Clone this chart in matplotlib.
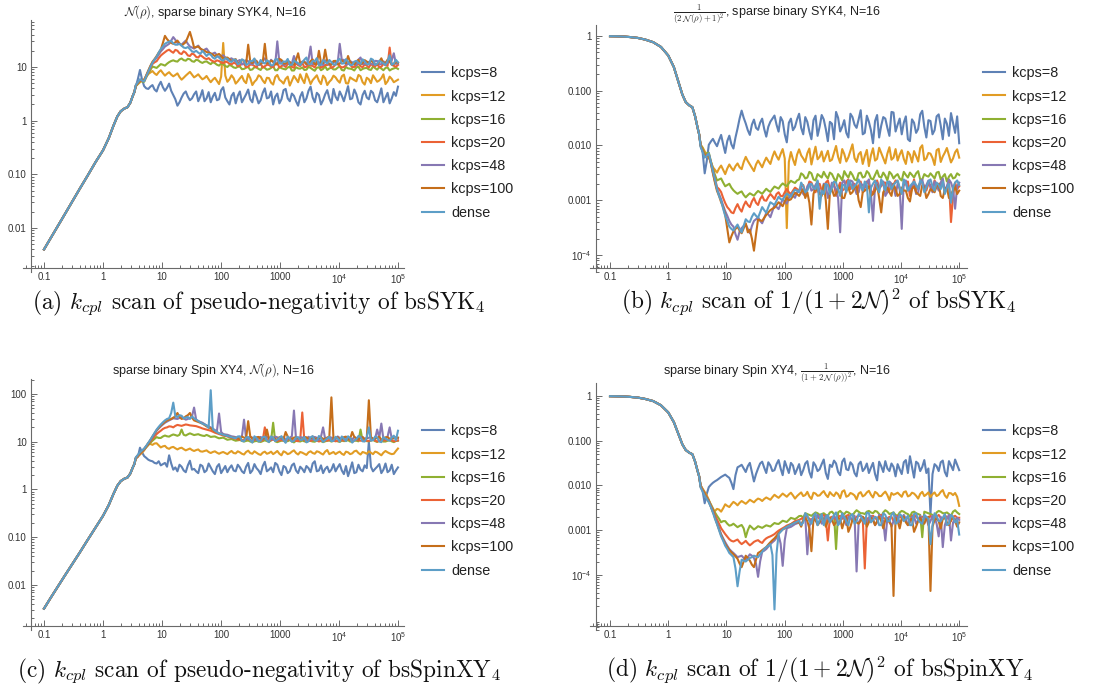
import numpy as np
import matplotlib
matplotlib.use("Agg")
import matplotlib.pyplot as plt
from matplotlib.ticker import FixedLocator, FixedFormatter, LogLocator, NullFormatter

W, H = 1116, 691
plt.rcParams['font.family'] = ['Liberation Sans', 'DejaVu Sans']
plt.rcParams['mathtext.fontset'] = 'custom'
plt.rcParams['mathtext.rm'] = 'Liberation Sans'
plt.rcParams['mathtext.it'] = 'Liberation Sans:italic'
plt.rcParams['mathtext.bf'] = 'Liberation Sans:bold'

LABELS = ['kcps=8', 'kcps=12', 'kcps=16', 'kcps=20', 'kcps=48', 'kcps=100', 'dense']
COLORS = ['#5E81B5', '#E19C24', '#8FB032', '#EB6235', '#8778B3', '#C56E1A', '#5D9EC7']

X_TICKS = [0.1, 1, 10, 100, 1000, 1e4, 1e5]
X_TICK_LABELS = ['0.1', '1', '10', '100', '1000', r'$10^4$', r'$10^5$']

# coupling values: smooth onset (shared by all series) and the noisy region samples
# (noisy samples alternate: "main" readings at even positions, "mid" readings in between)
K_SMOOTH = [0.1, 0.13, 0.17, 0.22, 0.3, 0.4, 0.55, 0.75, 1.0, 1.25, 1.5, 1.75, 2.0, 2.3, 2.6, 2.9, 3.2, 3.4]
K_NOISY = np.geomspace(3.6, 1.0e5, 127)

# ================= (a) N(rho), sparse binary SYK4 =================
SYK_N_SMOOTH = [0.0040, 0.0065, 0.0107, 0.0173, 0.031, 0.053, 0.095, 0.17, 0.28, 0.47, 0.80, 1.20, 1.50, 1.68, 1.78, 2.15, 2.9, 3.4]
SYK_N_K8 = [
    4.3, 8.8, 4.4, 3.9, 4.6, 3.5, 5.3, 3.6,
    4.9, 3.0, 1.9, 2.7, 3.5, 2.4, 3.1, 2.3,
    3.7, 2.6, 2.2, 3.3, 2.5, 4.2, 2.3, 2.9,
    2.1, 3.5, 2.6, 3.8, 2.2, 2.8, 2.4, 4.0,
    2.7, 2.0, 3.2, 2.5, 3.9, 2.3, 2.9, 1.9,
    3.4, 2.6, 4.3, 2.2, 3.0, 2.4, 3.7, 2.1,
    2.8, 3.5, 2.3, 4.4, 2.6, 3.1, 2.0, 3.6,
    2.5, 3.3, 2.2, 4.0, 2.7, 2.1, 3.4, 4.3]
SYK_N_K8_MID = [
    6.0, 5.8, 4.0, 4.3, 3.8, 4.5, 4.2, 4.1,
    3.6, 2.5, 2.2, 3.2, 2.8, 2.6, 3.5, 2.8,
    2.3, 3.4, 2.8, 2.4, 3.7, 2.7, 2.0, 3.3,
    2.9, 2.2, 3.1, 2.5, 3.6, 2.1, 3.3, 2.6,
    3.5, 2.8, 2.1, 3.7, 2.6, 3.2, 2.3, 2.8,
    2.2, 3.6, 2.7, 3.3, 2.0, 3.1, 2.6, 3.9,
    2.4, 2.9, 3.2, 2.5, 3.8, 2.2, 3.0, 2.7,
    3.6, 2.4, 2.9, 2.2, 3.3, 2.6, 2.9]
SYK_N_K12 = [
    4.4, 5.2, 5.9, 7.4, 8.4, 7.1, 8.7, 6.9,
    8.0, 6.7, 7.6, 5.8, 6.9, 8.1, 6.4, 7.3,
    5.9, 6.8, 5.2, 6.3, 4.8, 28.0, 5.3, 7.0,
    4.9, 6.1, 5.5, 7.4, 4.6, 5.8, 6.6, 5.0,
    6.2, 4.7, 7.1, 5.4, 6.0, 4.5, 6.8, 5.2,
    5.9, 7.5, 4.8, 6.3, 5.5, 6.9, 4.6, 5.8,
    6.4, 5.1, 7.2, 4.9, 6.0, 5.4, 6.7, 4.7,
    5.9, 7.0, 5.3, 6.2, 4.8, 6.6, 5.2, 5.8]
SYK_N_K12_MID = [
    4.8, 5.6, 6.7, 7.9, 7.6, 8.0, 7.7, 7.5,
    7.2, 7.1, 6.5, 6.3, 7.5, 7.2, 6.8, 6.5,
    6.2, 5.9, 5.8, 5.5, 6.6, 6.9, 5.9, 6.2,
    5.4, 6.8, 5.0, 6.2, 5.3, 7.0, 5.6, 6.3,
    5.1, 6.5, 5.8, 4.9, 6.6, 5.5, 6.0, 7.3,
    5.0, 6.1, 5.7, 7.0, 4.8, 6.2, 5.3, 6.9,
    5.6, 6.7, 5.0, 6.4, 5.7, 7.1, 5.2, 6.3,
    5.0, 6.1, 5.6, 7.3, 5.4, 6.0, 5.5]
SYK_N_K16 = [
    4.4, 5.5, 5.3, 7.6, 10.2, 9.6, 11.3, 10.6,
    12.3, 13.3, 12.6, 14.4, 13.1, 13.9, 12.5, 13.3,
    11.9, 12.7, 11.3, 11.8, 10.6, 11.2, 10.0, 10.5,
    9.6, 10.2, 9.2, 10.0, 9.0, 9.8, 8.8, 9.6,
    9.1, 10.4, 8.7, 9.5, 9.0, 10.1, 8.6, 9.4,
    9.8, 8.9, 9.6, 8.5, 9.9, 9.2, 8.8, 9.7,
    9.0, 10.3, 8.6, 9.4, 9.1, 9.8, 8.7, 9.5,
    9.0, 10.2, 8.9, 9.3, 9.6, 8.6, 9.4, 9.2]
SYK_N_K16_MID = [
    4.9, 5.4, 6.4, 8.8, 9.9, 10.4, 11.0, 11.5,
    12.9, 12.8, 13.8, 13.4, 14.2, 12.8, 13.6, 12.4,
    12.5, 11.9, 12.3, 11.0, 11.6, 10.4, 10.9, 9.8,
    10.1, 9.1, 9.7, 8.8, 9.9, 9.2, 10.2, 8.9,
    9.6, 8.7, 10.0, 9.2, 9.8, 8.6, 9.9, 9.3,
    8.8, 10.1, 9.0, 9.7, 8.7, 10.3, 9.4, 9.0,
    9.7, 8.8, 10.0, 9.3, 8.6, 10.1, 9.2, 9.6,
    8.8, 9.5, 10.0, 8.7, 9.8, 9.1, 9.7]
SYK_N_K20 = [
    4.5, 5.6, 5.5, 7.9, 11.4, 12.8, 16.3, 18.8,
    21.0, 18.4, 20.1, 17.4, 18.5, 16.0, 17.1, 15.0,
    15.6, 14.0, 13.5, 12.5, 12.9, 11.8, 12.3, 11.2,
    11.7, 10.8, 11.4, 10.2, 11.0, 9.8, 11.6, 10.3,
    10.9, 9.9, 11.8, 10.4, 10.0, 11.3, 9.7, 10.8,
    12.0, 10.1, 10.6, 9.8, 11.5, 10.2, 10.9, 9.6,
    11.1, 10.4, 10.0, 11.7, 9.9, 10.7, 10.3, 11.2,
    9.8, 10.6, 11.4, 10.1, 10.8, 23.0, 10.5, 10.9]
SYK_N_K20_MID = [
    5.0, 5.5, 6.6, 9.6, 12.2, 14.6, 17.6, 20.2,
    19.5, 20.8, 18.0, 19.6, 16.4, 17.8, 15.4, 16.6,
    14.5, 14.6, 12.8, 13.3, 12.1, 12.6, 11.5, 11.9,
    10.3, 11.5, 9.9, 11.1, 10.5, 11.8, 9.7, 11.0,
    10.2, 11.6, 9.8, 10.8, 11.4, 10.0, 11.9, 10.4,
    9.9, 11.2, 10.5, 11.7, 9.7, 10.9, 11.3, 10.1,
    11.5, 9.8, 10.7, 11.1, 10.0, 11.6, 9.9, 10.6,
    11.3, 10.2, 9.9, 11.4, 10.5, 11.0, 10.1]
SYK_N_K48 = [
    4.5, 5.8, 5.5, 8.4, 12.0, 15.0, 19.5, 24.0,
    27.0, 36.0, 28.0, 26.0, 31.0, 24.0, 22.0, 25.0,
    20.0, 22.0, 17.0, 18.5, 15.0, 16.5, 13.5, 14.5,
    12.5, 13.5, 11.8, 12.8, 11.2, 13.0, 11.0, 14.5,
    11.5, 12.4, 30.0, 13.2, 11.4, 12.0, 16.0, 11.2,
    12.6, 11.0, 24.0, 11.6, 12.3, 10.9, 13.4, 11.3,
    12.1, 27.0, 13.6, 11.4, 12.2, 10.8, 15.0, 11.5,
    12.4, 11.1, 12.9, 11.3, 12.0, 13.2, 18.0, 11.6]
SYK_N_K48_MID = [
    5.1, 5.6, 6.9, 10.2, 13.5, 17.0, 21.5, 25.5,
    31.0, 32.0, 27.0, 28.5, 27.0, 23.0, 23.5, 22.0,
    21.0, 19.5, 17.8, 16.5, 15.8, 15.0, 14.0, 13.4,
    12.9, 11.1, 13.4, 11.6, 12.3, 10.9, 13.1, 11.8,
    13.6, 11.3, 12.0, 10.8, 13.3, 11.7, 12.6, 11.0,
    12.8, 13.9, 11.2, 12.5, 11.4, 13.2, 10.9, 12.2,
    11.6, 13.5, 11.0, 12.9, 11.8, 13.7, 11.3, 12.4,
    11.5, 13.0, 11.1, 12.7, 11.9, 13.4, 11.4]
SYK_N_K100 = [
    4.5, 5.7, 5.6, 8.6, 12.5, 16.0, 21.0, 38.0,
    30.0, 27.0, 31.0, 25.0, 29.0, 45.0, 23.0, 24.0,
    21.0, 19.0, 18.0, 16.0, 17.5, 14.5, 15.0, 13.0,
    14.0, 12.2, 13.0, 26.0, 11.8, 12.8, 11.4, 27.0,
    11.8, 12.6, 11.2, 13.5, 11.6, 12.4, 11.0, 18.0,
    12.2, 11.4, 12.9, 11.2, 20.0, 11.8, 12.5, 11.0,
    13.0, 11.5, 12.3, 16.0, 11.7, 12.6, 11.1, 13.4,
    11.6, 12.2, 11.0, 14.5, 11.8, 12.5, 11.3, 12.0]
SYK_N_K100_MID = [
    5.1, 5.6, 7.0, 10.5, 14.0, 18.5, 28.0, 33.0,
    28.0, 29.0, 27.5, 27.0, 36.0, 33.0, 23.5, 22.0,
    20.0, 18.5, 17.0, 16.8, 16.0, 14.8, 14.0, 13.5,
    11.5, 13.4, 11.1, 12.6, 13.9, 11.3, 12.2, 11.7,
    13.1, 11.2, 14.2, 11.6, 12.7, 11.0, 13.5, 11.8,
    12.4, 11.3, 13.8, 11.5, 12.1, 21.0, 11.4, 12.9,
    11.2, 13.3, 11.7, 12.3, 11.0, 13.6, 11.9, 12.6,
    13.2, 11.3, 12.5, 11.6, 13.7, 11.1, 12.4]
SYK_N_DENSE = [
    4.6, 5.9, 5.4, 8.2, 12.0, 15.5, 21.5, 27.0,
    29.5, 27.5, 26.0, 25.0, 22.5, 21.5, 19.0, 18.5,
    20.0, 16.0, 17.0, 14.2, 15.2, 13.2, 14.2, 12.4,
    13.6, 11.8, 13.2, 11.4, 12.8, 11.0, 13.5, 11.6,
    12.6, 10.8, 14.0, 11.5, 12.4, 10.9, 13.2, 11.8,
    12.2, 15.0, 11.2, 12.8, 10.7, 13.4, 11.6, 12.3,
    11.0, 14.2, 11.7, 12.5, 10.9, 13.0, 11.4, 12.7,
    11.2, 13.6, 11.5, 12.4, 10.8, 16.5, 11.6, 12.2]
SYK_N_DENSE_MID = [
    5.2, 5.6, 6.7, 10.0, 13.8, 18.5, 24.0, 28.5,
    30.5, 26.0, 27.0, 23.0, 23.5, 19.5, 20.0, 17.5,
    18.0, 17.5, 15.0, 15.8, 13.6, 14.6, 12.8, 13.8,
    11.2, 13.9, 10.9, 12.9, 14.4, 11.3, 12.1, 13.3,
    10.7, 13.8, 11.6, 12.7, 14.1, 11.0, 12.3, 10.8,
    13.7, 11.4, 12.9, 14.6, 10.9, 12.4, 13.5, 11.1,
    13.4, 11.5, 14.0, 10.8, 12.6, 11.9, 13.9, 11.2,
    14.3, 10.9, 13.1, 11.7, 12.8, 11.0, 13.6]

# ================= (b) 1/(2N+1)^2, sparse binary SYK4 =================
SYK_INV_SMOOTH = [0.99, 0.985, 0.975, 0.955, 0.92, 0.86, 0.77, 0.63, 0.44, 0.27, 0.145, 0.085, 0.062, 0.054, 0.050, 0.034, 0.021, 0.016]
SYK_INV_K8 = [
    0.0107, 0.0031, 0.0103, 0.0132, 0.0097, 0.0156, 0.0073, 0.0151,
    0.0088, 0.0204, 0.0433, 0.0252, 0.0156, 0.0297, 0.0193, 0.0309,
    0.0145, 0.0272, 0.0352, 0.0179, 0.0278, 0.0114, 0.0309, 0.0219,
    0.038, 0.016, 0.027, 0.013, 0.035, 0.022, 0.030, 0.012,
    0.025, 0.041, 0.018, 0.029, 0.014, 0.033, 0.021, 0.044,
    0.017, 0.027, 0.011, 0.036, 0.023, 0.031, 0.015, 0.040,
    0.024, 0.016, 0.034, 0.012, 0.026, 0.020, 0.043, 0.014,
    0.028, 0.019, 0.037, 0.013, 0.025, 0.039, 0.017, 0.011]
SYK_INV_K8_MID = [
    0.0075, 0.0052, 0.0118, 0.0112, 0.0125, 0.0105, 0.0120, 0.0105,
    0.0140, 0.031, 0.032, 0.019, 0.024, 0.021, 0.026, 0.020,
    0.022, 0.031, 0.024, 0.033, 0.016, 0.026, 0.019, 0.030,
    0.021, 0.033, 0.018, 0.029, 0.015, 0.036, 0.020, 0.027,
    0.013, 0.032, 0.022, 0.017, 0.038, 0.024, 0.030, 0.016,
    0.035, 0.019, 0.028, 0.014, 0.033, 0.021, 0.041, 0.018,
    0.031, 0.026, 0.013, 0.030, 0.017, 0.037, 0.022, 0.029,
    0.016, 0.034, 0.023, 0.031, 0.015, 0.026, 0.034]
SYK_INV_K12 = [
    0.0103, 0.0078, 0.0060, 0.0040, 0.0032, 0.0043, 0.0030, 0.0045,
    0.0035, 0.0047, 0.0037, 0.0062, 0.0045, 0.0034, 0.0053, 0.0040,
    0.0060, 0.0046, 0.0078, 0.0055, 0.0086, 0.00031, 0.0076, 0.0044,
    0.0085, 0.0058, 0.0072, 0.0045, 0.0095, 0.0062, 0.0051, 0.0080,
    0.0055, 0.0098, 0.0048, 0.0070, 0.0061, 0.0105, 0.0050, 0.0076,
    0.0064, 0.0042, 0.0089, 0.0057, 0.0073, 0.0047, 0.0093, 0.0060,
    0.0053, 0.0082, 0.0046, 0.0068, 0.0079, 0.0051, 0.0101, 0.0058,
    0.0071, 0.0044, 0.0087, 0.0063, 0.0090, 0.0049, 0.0075, 0.0060]
SYK_INV_K12_MID = [
    0.0092, 0.0068, 0.0050, 0.0036, 0.0038, 0.0036, 0.0038, 0.0039,
    0.0042, 0.0040, 0.0050, 0.0052, 0.0039, 0.0045, 0.0046, 0.0050,
    0.0052, 0.0062, 0.0064, 0.0070, 0.0058, 0.0050, 0.0056, 0.0068,
    0.0066, 0.0050, 0.0088, 0.0067, 0.0056, 0.0078, 0.0064, 0.0052,
    0.0074, 0.0062, 0.0086, 0.0051, 0.0080, 0.0059, 0.0069, 0.0046,
    0.0083, 0.0066, 0.0053, 0.0091, 0.0058, 0.0071, 0.0055, 0.0086,
    0.0068, 0.0057, 0.0077, 0.0049, 0.0064, 0.0090, 0.0054, 0.0073,
    0.0059, 0.0082, 0.0050, 0.0074, 0.0066, 0.0058, 0.0085]
SYK_INV_K16 = [
    0.0103, 0.0069, 0.0074, 0.0038, 0.0023, 0.0025, 0.0018, 0.0020,
    0.00152, 0.00131, 0.00145, 0.00113, 0.00134, 0.00121, 0.00148, 0.00131,
    0.00162, 0.00142, 0.00178, 0.00163, 0.00203, 0.00182, 0.00227, 0.00207,
    0.0024, 0.0029, 0.0026, 0.0031, 0.0023, 0.0028, 0.0033, 0.0025,
    0.0030, 0.0022, 0.0027, 0.0034, 0.0026, 0.0029, 0.0023, 0.0032,
    0.0027, 0.0031, 0.0024, 0.0035, 0.0026, 0.0028, 0.0033, 0.0025,
    0.0030, 0.0023, 0.0029, 0.0032, 0.0026, 0.0034, 0.0024, 0.0028,
    0.0031, 0.0025, 0.0033, 0.0027, 0.0022, 0.0030, 0.0026, 0.0029]
SYK_INV_K16_MID = [
    0.0088, 0.0072, 0.0052, 0.0029, 0.0024, 0.0021, 0.0019, 0.0017,
    0.00140, 0.00139, 0.00125, 0.00124, 0.00127, 0.00135, 0.00139, 0.00146,
    0.00150, 0.00160, 0.00170, 0.00185, 0.00190, 0.00205, 0.00215, 0.0023,
    0.0031, 0.0025, 0.0033, 0.0024, 0.0030, 0.0026, 0.0028, 0.0032,
    0.0025, 0.0030, 0.0023, 0.0029, 0.0033, 0.0024, 0.0031, 0.0026,
    0.0034, 0.0025, 0.0029, 0.0027, 0.0032, 0.0023, 0.0030, 0.0028,
    0.0025, 0.0033, 0.0026, 0.0029, 0.0031, 0.0024, 0.0030, 0.0027,
    0.0028, 0.0032, 0.0024, 0.0030, 0.0027, 0.0025, 0.0031]
SYK_INV_K20 = [
    0.0099, 0.0066, 0.0069, 0.0036, 0.00174, 0.00141, 0.00089, 0.00068,
    0.00058, 0.00085, 0.00062, 0.00095, 0.00075, 0.0011, 0.00082, 0.0012,
    0.00098, 0.0013, 0.00105, 0.0014, 0.00118, 0.0016, 0.0013, 0.0017,
    0.0015, 0.0019, 0.0016, 0.0021, 0.0014, 0.0020, 0.0017, 0.0023,
    0.0018, 0.0012, 0.0021, 0.0016, 0.0024, 0.0019, 0.0014, 0.0022,
    0.0017, 0.0020, 0.0013, 0.0023, 0.0018, 0.0021, 0.0015, 0.0019,
    0.0022, 0.0016, 0.0020, 0.0012, 0.0024, 0.0018, 0.0021, 0.0015,
    0.0019, 0.0023, 0.0016, 0.0020, 0.0017, 0.0004, 0.0021, 0.0018]
SYK_INV_K20_MID = [
    0.0082, 0.0068, 0.0050, 0.0025, 0.0016, 0.0011, 0.00075, 0.00060,
    0.00072, 0.00070, 0.00080, 0.00082, 0.00095, 0.00090, 0.00105, 0.00100,
    0.00115, 0.00118, 0.0013, 0.0012, 0.0014, 0.0014, 0.0015, 0.0016,
    0.0018, 0.0014, 0.0022, 0.0017, 0.0019, 0.0015, 0.0021, 0.0016,
    0.0020, 0.0017, 0.0015, 0.0022, 0.0016, 0.0020, 0.0018, 0.0014,
    0.0022, 0.0015, 0.0019, 0.0017, 0.0021, 0.0014, 0.0020, 0.0023,
    0.0016, 0.0019, 0.0022, 0.0017, 0.0015, 0.0021, 0.0018, 0.0020,
    0.0015, 0.0019, 0.0021, 0.0014, 0.0022, 0.0012, 0.0016]
SYK_INV_K48 = [
    0.0099, 0.0062, 0.0069, 0.0032, 0.0016, 0.00104, 0.00063, 0.00042,
    0.00033, 0.00019, 0.00031, 0.00036, 0.00025, 0.00042, 0.00049, 0.00038,
    0.00059, 0.00049, 0.00082, 0.00069, 0.00104, 0.00087, 0.00128, 0.00111,
    0.0015, 0.0013, 0.0018, 0.0015, 0.0019, 0.0014, 0.0020, 0.0011,
    0.0021, 0.0016, 0.00026, 0.0023, 0.0018, 0.0022, 0.0013, 0.0020,
    0.0017, 0.0024, 0.00042, 0.0021, 0.0019, 0.0012, 0.0022, 0.0018,
    0.0020, 0.0003, 0.0023, 0.0016, 0.0021, 0.0014, 0.0024, 0.0019,
    0.0017, 0.0022, 0.0015, 0.0025, 0.0018, 0.0021, 0.0007, 0.0021]
SYK_INV_K48_MID = [
    0.0080, 0.0065, 0.0048, 0.0022, 0.0013, 0.00080, 0.00052, 0.00036,
    0.00024, 0.00027, 0.00034, 0.00030, 0.00034, 0.00045, 0.00042, 0.00047,
    0.00055, 0.00063, 0.00075, 0.00085, 0.00095, 0.0011, 0.0012, 0.0014,
    0.0017, 0.0012, 0.0020, 0.0016, 0.0022, 0.0013, 0.0019, 0.0015,
    0.0018, 0.0011, 0.0021, 0.0015, 0.0023, 0.0017, 0.0014, 0.0019,
    0.0021, 0.0013, 0.0018, 0.0016, 0.0022, 0.0014, 0.0020, 0.0012,
    0.0017, 0.0022, 0.0015, 0.0019, 0.0013, 0.0021, 0.0016, 0.0023,
    0.0014, 0.0019, 0.0021, 0.0015, 0.0024, 0.0016, 0.0018]
SYK_INV_K100 = [
    0.0099, 0.0064, 0.0066, 0.0031, 0.00148, 0.00092, 0.00054, 0.00017,
    0.00027, 0.00033, 0.00025, 0.00038, 0.00029, 0.00012, 0.00045, 0.00042,
    0.00054, 0.00066, 0.00073, 0.00092, 0.00078, 0.00111, 0.00104, 0.00137,
    0.0012, 0.0016, 0.0014, 0.00036, 0.0017, 0.0013, 0.0019, 0.0003,
    0.0016, 0.0013, 0.0018, 0.0011, 0.0017, 0.0014, 0.0019, 0.00075,
    0.0015, 0.0018, 0.0013, 0.0019, 0.0006, 0.0016, 0.0014, 0.0020,
    0.0012, 0.0017, 0.0015, 0.00095, 0.0018, 0.0013, 0.0019, 0.0011,
    0.0016, 0.0014, 0.0020, 0.0011, 0.0017, 0.0013, 0.0018, 0.0015]
SYK_INV_K100_MID = [
    0.0080, 0.0065, 0.0047, 0.0021, 0.0012, 0.00075, 0.00030, 0.00022,
    0.00030, 0.00028, 0.00031, 0.00026, 0.00020, 0.00024, 0.00043, 0.00048,
    0.00060, 0.00070, 0.00082, 0.00085, 0.00095, 0.00100, 0.0012, 0.0013,
    0.0014, 0.0011, 0.0009, 0.0013, 0.0015, 0.0012, 0.0010, 0.0014,
    0.0012, 0.0016, 0.0011, 0.0015, 0.0013, 0.0017, 0.0010, 0.0014,
    0.0016, 0.0012, 0.0015, 0.0011, 0.0014, 0.0017, 0.0012, 0.0016,
    0.0013, 0.0015, 0.0011, 0.0016, 0.0014, 0.0012, 0.0017, 0.0013,
    0.0015, 0.0018, 0.0012, 0.0016, 0.0011, 0.0015, 0.0013]
SYK_INV_DENSE = [
    0.0094, 0.0060, 0.0072, 0.0034, 0.0016, 0.00098, 0.00052, 0.00033,
    0.00028, 0.00036, 0.00026, 0.00045, 0.00040, 0.00058, 0.00048, 0.00075,
    0.00059, 0.00092, 0.00082, 0.00116, 0.00101, 0.00133, 0.00116, 0.00155,
    0.0014, 0.0018, 0.0015, 0.0020, 0.0016, 0.0007, 0.0013, 0.0019,
    0.0017, 0.0021, 0.0012, 0.0019, 0.0023, 0.0016, 0.0020, 0.0018,
    0.0022, 0.0006, 0.0020, 0.0017, 0.0024, 0.0015, 0.0021, 0.0019,
    0.0023, 0.0013, 0.0020, 0.0018, 0.0022, 0.0016, 0.0021, 0.0017,
    0.0024, 0.0015, 0.0019, 0.0022, 0.0017, 0.0009, 0.0021, 0.0019]
SYK_INV_DENSE_MID = [
    0.0076, 0.0065, 0.0050, 0.0024, 0.0012, 0.00070, 0.00042, 0.00030,
    0.00032, 0.00030, 0.00034, 0.00041, 0.00050, 0.00052, 0.00060, 0.00066,
    0.00075, 0.00087, 0.00098, 0.00105, 0.00118, 0.00124, 0.0014, 0.0015,
    0.0021, 0.0014, 0.0019, 0.0017, 0.0023, 0.0015, 0.0020, 0.0013,
    0.0022, 0.0016, 0.0019, 0.0014, 0.0021, 0.0018, 0.0024, 0.0015,
    0.0019, 0.0017, 0.0023, 0.0014, 0.0020, 0.0022, 0.0016, 0.0021,
    0.0017, 0.0024, 0.0015, 0.0020, 0.0019, 0.0023, 0.0014, 0.0022,
    0.0018, 0.0021, 0.0016, 0.0013, 0.0020, 0.0017, 0.0023]

# ================= (c) N(rho), sparse binary Spin XY4 =================
XY_N_SMOOTH = [0.0032, 0.0054, 0.0091, 0.015, 0.027, 0.047, 0.088, 0.16, 0.28, 0.47, 0.80, 1.20, 1.50, 1.68, 1.78, 2.15, 2.9, 3.4]
XY_N_K8 = [
    4.5, 7.5, 5.0, 4.2, 3.9, 3.5, 3.2, 3.6,
    5.2, 2.6, 2.4, 3.0, 2.3, 4.0, 2.7, 2.2,
    3.1, 2.5, 2.9, 2.1, 3.4, 2.6, 2.3, 3.2,
    2.4, 2.9, 2.2, 3.6, 2.5, 2.8, 2.1, 3.8,
    2.6, 2.3, 3.3, 2.0, 2.9, 2.4, 3.5, 2.2,
    2.7, 3.1, 2.3, 3.9, 2.5, 2.2, 3.0, 2.6,
    2.4, 3.4, 2.1, 1.9, 3.7, 2.3, 2.6, 3.2,
    10.0, 2.4, 3.0, 2.2, 3.5, 2.5, 2.1, 2.9]
XY_N_K8_MID = [
    4.8, 6.0, 4.6, 4.0, 3.6, 3.9, 3.4, 3.0,
    3.5, 2.9, 3.3, 2.5, 3.2, 2.6, 2.4, 3.3,
    2.3, 3.5, 2.4, 3.0, 2.2, 3.1, 2.8, 2.5,
    3.3, 2.4, 3.0, 2.2, 3.4, 2.5, 3.1, 2.4,
    2.9, 3.6, 2.4, 3.1, 2.2, 3.2, 2.5, 3.0,
    2.3, 2.8, 3.5, 2.4, 3.2, 2.7, 2.3, 3.4,
    2.9, 2.5, 3.1, 2.6, 2.2, 3.3, 2.4, 2.8,
    3.0, 2.7, 3.4, 2.6, 2.3, 3.3, 2.5]
XY_N_K12 = [
    4.5, 5.4, 6.6, 9.5, 8.6, 9.3, 7.6, 8.2,
    7.1, 7.8, 6.9, 7.5, 6.6, 7.2, 6.4, 6.9,
    6.2, 6.6, 5.8, 6.3, 5.6, 6.1, 5.5, 6.4,
    5.7, 6.0, 5.4, 6.5, 5.6, 5.9, 5.3, 6.2,
    5.8, 5.5, 6.4, 5.2, 6.0, 5.7, 6.6, 5.4,
    5.9, 5.3, 6.3, 5.6, 6.1, 5.4, 6.7, 5.8,
    5.5, 6.2, 5.3, 6.0, 5.7, 6.5, 5.4, 5.9,
    6.3, 5.5, 6.0, 5.2, 6.4, 5.7, 5.6, 7.2]
XY_N_K12_MID = [
    4.9, 5.9, 8.0, 9.0, 9.2, 8.4, 8.0, 7.4,
    7.6, 7.3, 7.3, 7.0, 6.9, 6.7, 6.7, 6.3,
    6.4, 6.1, 6.1, 5.9, 5.9, 5.8, 6.0, 5.8,
    6.3, 5.6, 6.1, 5.8, 6.3, 5.5, 5.9, 5.6,
    6.2, 5.9, 5.6, 6.3, 5.5, 6.2, 5.8, 6.1,
    5.6, 6.0, 5.8, 6.3, 5.7, 6.2, 5.5, 6.1,
    5.9, 5.6, 6.2, 5.5, 6.3, 5.8, 6.1, 5.6,
    5.9, 6.2, 5.6, 5.9, 6.0, 5.5, 6.4]
XY_N_K16 = [
    4.5, 5.6, 6.8, 8.5, 10.5, 12.5, 12.0, 13.5,
    12.8, 14.2, 13.3, 18.0, 13.5, 15.0, 13.8, 14.4,
    13.4, 13.9, 12.6, 12.9, 11.8, 12.2, 11.0, 11.4,
    10.5, 10.9, 10.1, 10.6, 9.8, 10.4, 9.9, 10.7,
    10.0, 25.0, 9.8, 10.5, 10.1, 10.8, 9.7, 10.3,
    10.6, 9.9, 10.4, 10.0, 10.9, 9.8, 10.5, 10.1,
    10.7, 9.9, 10.3, 10.8, 10.0, 10.5, 18.0, 10.6,
    10.2, 10.9, 9.9, 10.4, 10.1, 10.7, 9.8, 10.5]
XY_N_K16_MID = [
    5.0, 6.2, 7.6, 9.5, 11.5, 12.0, 12.9, 13.0,
    13.6, 13.8, 14.0, 14.0, 14.3, 14.4, 14.1, 13.8,
    13.2, 13.3, 12.8, 12.3, 12.0, 11.6, 11.2, 10.9,
    10.7, 10.4, 10.4, 10.1, 10.2, 10.1, 10.3, 10.3,
    10.6, 10.2, 10.2, 10.6, 10.3, 10.2, 10.5, 10.1,
    10.2, 10.5, 10.1, 10.7, 10.3, 10.2, 10.6, 10.4,
    10.2, 10.6, 10.4, 10.1, 10.6, 10.2, 10.4, 10.3,
    10.6, 10.3, 10.5, 10.1, 10.5, 10.2, 10.4]
XY_N_K20 = [
    4.5, 5.6, 6.9, 8.8, 11.5, 14.5, 17.0, 19.5,
    21.0, 20.0, 22.5, 21.5, 23.0, 22.0, 21.5, 20.5,
    19.0, 18.0, 17.0, 15.5, 14.5, 13.5, 13.0, 12.0,
    11.6, 11.0, 10.8, 11.4, 10.5, 11.2, 10.3, 20.0,
    10.6, 11.1, 10.4, 10.9, 10.2, 11.5, 10.7, 10.3,
    41.0, 10.8, 10.4, 11.2, 10.1, 10.9, 10.5, 11.3,
    10.2, 10.8, 10.6, 11.4, 10.3, 11.0, 10.5, 10.8,
    10.4, 11.2, 10.1, 10.9, 10.6, 11.3, 10.2, 10.7]
XY_N_K20_MID = [
    5.0, 6.2, 7.8, 10.2, 13.0, 15.8, 18.5, 20.0,
    20.8, 21.5, 22.0, 22.3, 22.6, 21.8, 21.2, 19.8,
    18.5, 17.5, 16.2, 15.0, 14.0, 13.2, 12.5, 11.8,
    11.2, 10.9, 11.2, 10.9, 10.8, 10.7, 10.8, 10.9,
    10.8, 10.7, 10.6, 10.5, 10.9, 11.0, 10.4, 10.8,
    10.6, 10.5, 10.8, 10.6, 10.5, 10.7, 10.9, 10.6,
    10.5, 10.7, 11.0, 10.8, 10.6, 10.7, 10.6, 10.5,
    10.8, 10.6, 10.5, 10.7, 10.9, 10.7, 10.4]
XY_N_K48 = [
    4.6, 5.8, 7.0, 9.2, 12.5, 17.0, 21.0, 25.0,
    28.0, 31.0, 30.0, 33.0, 29.0, 31.5, 52.0, 27.0,
    25.0, 22.0, 20.0, 17.5, 39.0, 14.5, 14.0, 13.0,
    12.5, 11.8, 29.0, 11.4, 12.2, 11.0, 12.6, 11.3,
    12.0, 11.1, 12.4, 11.6, 11.0, 12.1, 45.0, 11.5,
    12.3, 11.2, 11.8, 12.6, 11.0, 20.0, 11.7, 12.2,
    11.3, 12.0, 11.6, 12.5, 11.1, 11.9, 12.3, 11.4,
    12.1, 11.2, 18.0, 24.0, 11.5, 20.0, 11.8, 12.0]
XY_N_K48_MID = [
    5.2, 6.4, 8.0, 10.8, 14.5, 19.0, 23.0, 26.5,
    29.5, 30.5, 31.5, 31.0, 30.0, 34.0, 29.0, 26.0,
    23.5, 21.0, 18.8, 17.0, 16.0, 14.2, 13.5, 12.8,
    12.1, 12.9, 11.7, 12.7, 11.4, 12.3, 11.8, 12.6,
    11.5, 12.8, 11.3, 12.5, 11.6, 13.0, 11.4, 12.4,
    11.6, 12.7, 11.2, 12.1, 12.8, 11.5, 12.4, 11.7,
    12.9, 11.4, 12.3, 11.7, 12.6, 11.2, 12.5, 11.8,
    12.7, 11.5, 12.2, 11.3, 12.8, 11.6, 12.3]
XY_N_K100 = [
    4.6, 5.7, 7.1, 9.0, 12.8, 17.5, 22.0, 26.0,
    29.0, 32.0, 40.0, 30.0, 34.0, 40.0, 28.0, 26.0,
    24.0, 21.0, 19.0, 16.5, 15.0, 14.0, 13.0, 12.4,
    12.0, 11.4, 12.2, 27.0, 11.6, 12.4, 11.2, 12.0,
    11.5, 12.3, 11.1, 11.9, 16.0, 11.4, 12.2, 11.7,
    11.0, 12.4, 11.6, 11.3, 12.0, 11.5, 12.3, 85.0,
    11.8, 11.2, 12.5, 11.4, 16.0, 11.7, 12.1, 11.3,
    74.0, 11.6, 12.0, 11.1, 12.4, 11.5, 11.9, 12.2]
XY_N_K100_MID = [
    5.2, 6.3, 8.0, 10.8, 15.0, 19.5, 24.0, 28.0,
    30.0, 34.0, 33.0, 31.0, 36.0, 32.0, 27.0, 25.0,
    22.5, 20.0, 17.8, 15.8, 14.5, 13.5, 12.8, 12.2,
    11.7, 12.8, 11.5, 12.9, 11.3, 12.6, 11.6, 18.0,
    12.7, 11.4, 12.5, 11.2, 12.8, 11.6, 12.4, 11.3,
    12.6, 11.5, 12.9, 11.7, 12.3, 11.4, 12.7, 11.6,
    12.4, 11.3, 12.8, 11.5, 12.6, 11.2, 12.5, 11.8,
    12.3, 11.6, 12.7, 11.4, 12.5, 11.7, 12.3]
XY_N_DENSE = [
    4.7, 6.0, 7.2, 9.5, 13.0, 18.0, 23.0, 28.0,
    31.0, 66.0, 33.0, 35.0, 32.0, 30.0, 31.0, 27.0,
    24.0, 22.0, 120.0, 17.0, 15.0, 14.0, 13.2, 12.5,
    11.8, 13.0, 10.2, 12.6, 9.6, 11.9, 10.5, 12.8,
    9.8, 12.2, 10.9, 13.1, 9.5, 11.6, 10.4, 12.5,
    11.0, 9.7, 12.4, 10.6, 13.2, 9.9, 11.8, 10.3,
    12.7, 10.0, 11.5, 13.0, 9.6, 11.3, 12.6, 10.1,
    20.0, 10.8, 12.3, 9.8, 11.7, 10.5, 13.4, 17.0]
XY_N_DENSE_MID = [
    5.3, 6.6, 8.2, 11.0, 15.5, 20.5, 25.5, 30.0,
    40.0, 34.0, 36.0, 31.0, 33.0, 34.0, 29.0, 25.5,
    23.0, 19.5, 18.5, 16.0, 14.5, 13.6, 12.8, 12.1,
    12.9, 10.4, 12.2, 10.8, 13.0, 10.1, 12.4, 10.6,
    12.9, 10.3, 12.0, 10.7, 12.8, 10.0, 12.3, 10.9,
    12.6, 10.2, 13.1, 10.5, 11.9, 10.8, 12.7, 10.4,
    11.7, 12.9, 10.3, 11.9, 10.6, 13.2, 10.2, 12.4,
    10.5, 12.8, 10.1, 12.5, 10.9, 12.2, 10.7]

# ================= (d) 1/(1+2N)^2, sparse binary Spin XY4 =================
XY_INV_SMOOTH = [0.99, 0.985, 0.975, 0.955, 0.92, 0.86, 0.77, 0.62, 0.43, 0.26, 0.14, 0.083, 0.062, 0.054, 0.050, 0.034, 0.021, 0.016]
XY_INV_K8 = [
    0.0105, 0.0040, 0.0092, 0.0115, 0.0132, 0.0155, 0.0175, 0.0148,
    0.0083, 0.0255, 0.029, 0.020, 0.032, 0.0123, 0.024, 0.034,
    0.019, 0.028, 0.022, 0.037, 0.017, 0.026, 0.032, 0.018,
    0.030, 0.022, 0.035, 0.015, 0.028, 0.023, 0.038, 0.014,
    0.026, 0.031, 0.017, 0.040, 0.022, 0.029, 0.016, 0.034,
    0.024, 0.019, 0.032, 0.013, 0.027, 0.035, 0.021, 0.026,
    0.030, 0.018, 0.037, 0.045, 0.015, 0.031, 0.026, 0.019,
    0.0023, 0.030, 0.021, 0.036, 0.016, 0.028, 0.038, 0.022]
XY_INV_K8_MID = [
    0.0075, 0.0065, 0.0104, 0.0124, 0.0143, 0.0165, 0.0160, 0.0115,
    0.0170, 0.027, 0.024, 0.027, 0.020, 0.018, 0.031, 0.025,
    0.033, 0.021, 0.030, 0.024, 0.035, 0.019, 0.028, 0.023,
    0.017, 0.031, 0.020, 0.033, 0.021, 0.030, 0.019, 0.029,
    0.036, 0.020, 0.034, 0.023, 0.033, 0.019, 0.030, 0.021,
    0.031, 0.025, 0.018, 0.034, 0.020, 0.024, 0.031, 0.016,
    0.023, 0.033, 0.019, 0.026, 0.034, 0.021, 0.037, 0.024,
    0.018, 0.027, 0.033, 0.020, 0.035, 0.022, 0.029]
XY_INV_K12 = [
    0.0100, 0.0072, 0.0048, 0.0025, 0.0030, 0.0026, 0.0038, 0.0033,
    0.0043, 0.0036, 0.0045, 0.0039, 0.0048, 0.0042, 0.0051, 0.0045,
    0.0054, 0.0048, 0.0062, 0.0053, 0.0066, 0.0056, 0.0069, 0.0051,
    0.0064, 0.0058, 0.0072, 0.0050, 0.0066, 0.0060, 0.0075, 0.0055,
    0.0063, 0.0070, 0.0052, 0.0078, 0.0059, 0.0065, 0.0049, 0.0071,
    0.0061, 0.0076, 0.0054, 0.0067, 0.0058, 0.0073, 0.0047, 0.0062,
    0.0069, 0.0056, 0.0074, 0.0060, 0.0066, 0.0051, 0.0072, 0.0063,
    0.0055, 0.0070, 0.0062, 0.0079, 0.0053, 0.0067, 0.0068, 0.0035]
XY_INV_K12_MID = [
    0.0085, 0.0060, 0.0035, 0.0027, 0.0029, 0.0031, 0.0035, 0.0038,
    0.0040, 0.0041, 0.0042, 0.0043, 0.0045, 0.0047, 0.0049, 0.0050,
    0.0051, 0.0055, 0.0057, 0.0059, 0.0061, 0.0063, 0.0060, 0.0058,
    0.0070, 0.0061, 0.0057, 0.0069, 0.0059, 0.0068, 0.0062, 0.0071,
    0.0058, 0.0064, 0.0073, 0.0056, 0.0068, 0.0060, 0.0066, 0.0057,
    0.0070, 0.0062, 0.0072, 0.0058, 0.0066, 0.0061, 0.0068, 0.0065,
    0.0062, 0.0071, 0.0057, 0.0069, 0.0059, 0.0065, 0.0058, 0.0070,
    0.0064, 0.0058, 0.0072, 0.0060, 0.0068, 0.0061, 0.0056]
XY_INV_K16 = [
    0.0099, 0.0066, 0.0046, 0.0031, 0.0021, 0.00151, 0.0016, 0.00127,
    0.0014, 0.00117, 0.00131, 0.0007, 0.00127, 0.00104, 0.00123, 0.00113,
    0.00129, 0.00121, 0.00145, 0.00138, 0.00163, 0.00153, 0.00189, 0.00177,
    0.00207, 0.0019, 0.0023, 0.0021, 0.0025, 0.0022, 0.0024, 0.0021,
    0.0026, 0.00038, 0.0027, 0.0023, 0.0025, 0.0021, 0.0028, 0.0024,
    0.0023, 0.0027, 0.0024, 0.0026, 0.0020, 0.0028, 0.0023, 0.0025,
    0.0021, 0.0027, 0.0024, 0.0020, 0.0026, 0.0023, 0.0007, 0.0025,
    0.0023, 0.0020, 0.0027, 0.0024, 0.0025, 0.0021, 0.0028, 0.0023]
XY_INV_K16_MID = [
    0.0080, 0.0055, 0.0038, 0.0025, 0.0018, 0.0016, 0.0014, 0.0013,
    0.00128, 0.00125, 0.00110, 0.00100, 0.00115, 0.00112, 0.00118, 0.00121,
    0.00125, 0.00133, 0.00140, 0.00150, 0.00158, 0.00170, 0.00183, 0.0019,
    0.0021, 0.0024, 0.0022, 0.0023, 0.0024, 0.0023, 0.0022, 0.0025,
    0.0023, 0.0025, 0.0024, 0.0026, 0.0023, 0.0025, 0.0026, 0.0024,
    0.0026, 0.0025, 0.0027, 0.0023, 0.0025, 0.0026, 0.0024, 0.0022,
    0.0025, 0.0026, 0.0023, 0.0025, 0.0024, 0.0022, 0.0026, 0.0024,
    0.0022, 0.0025, 0.0026, 0.0024, 0.0023, 0.0026, 0.0025]
XY_INV_K20 = [
    0.0099, 0.0066, 0.0045, 0.0029, 0.00174, 0.00111, 0.00082, 0.00063,
    0.00056, 0.00062, 0.00049, 0.00058, 0.00046, 0.00055, 0.00060, 0.00052,
    0.00066, 0.00073, 0.00082, 0.00098, 0.00111, 0.00127, 0.00137, 0.0016,
    0.0017, 0.0019, 0.0020, 0.0017, 0.0021, 0.0018, 0.0022, 0.00059,
    0.0020, 0.0017, 0.0021, 0.0019, 0.0022, 0.0016, 0.0020, 0.0021,
    0.00014, 0.0019, 0.0021, 0.0017, 0.0022, 0.0018, 0.0020, 0.0016,
    0.0021, 0.0019, 0.0018, 0.0016, 0.0022, 0.0018, 0.0020, 0.0019,
    0.0021, 0.0016, 0.0022, 0.0018, 0.0020, 0.0016, 0.0021, 0.0019]
XY_INV_K20_MID = [
    0.0080, 0.0055, 0.0036, 0.0022, 0.0014, 0.00095, 0.00072, 0.00058,
    0.00059, 0.00054, 0.00053, 0.00051, 0.00050, 0.00058, 0.00055, 0.00060,
    0.00070, 0.00077, 0.00090, 0.00104, 0.00118, 0.00132, 0.00148, 0.00165,
    0.0018, 0.0020, 0.0018, 0.0019, 0.0020, 0.0021, 0.0018, 0.0019,
    0.0019, 0.0020, 0.0018, 0.0021, 0.0019, 0.0018, 0.0021, 0.0019,
    0.0018, 0.0020, 0.0019, 0.0021, 0.0019, 0.0018, 0.0020, 0.0019,
    0.0020, 0.0018, 0.0019, 0.0021, 0.0020, 0.0018, 0.0020, 0.0019,
    0.0018, 0.0020, 0.0019, 0.0021, 0.0018, 0.0020, 0.0019]
XY_INV_K48 = [
    0.0094, 0.0062, 0.0044, 0.0026, 0.00148, 0.00082, 0.00054, 0.00038,
    0.00031, 0.00025, 0.00027, 0.00022, 0.00029, 0.00024, 0.000091, 0.00033,
    0.00038, 0.00049, 0.00059, 0.00078, 0.00016, 0.00111, 0.00119, 0.00137,
    0.00148, 0.00163, 0.00029, 0.00174, 0.0016, 0.0019, 0.0015, 0.0018,
    0.0017, 0.0019, 0.0016, 0.0018, 0.0020, 0.0017, 0.00012, 0.0018,
    0.0016, 0.0019, 0.0018, 0.0015, 0.0020, 0.00059, 0.0017, 0.0016,
    0.0019, 0.0017, 0.0018, 0.0015, 0.0020, 0.0017, 0.0016, 0.0019,
    0.0016, 0.0019, 0.00073, 0.00042, 0.0018, 0.00059, 0.0017, 0.0017]
XY_INV_K48_MID = [
    0.0078, 0.0053, 0.0034, 0.0020, 0.0011, 0.00066, 0.00045, 0.00034,
    0.00028, 0.00026, 0.00024, 0.00025, 0.00027, 0.00018, 0.00020, 0.00035,
    0.00043, 0.00054, 0.00068, 0.00050, 0.00060, 0.00115, 0.00128, 0.00142,
    0.0013, 0.0020, 0.0012, 0.0019, 0.0022, 0.0014, 0.0021, 0.0015,
    0.0020, 0.0014, 0.0022, 0.0013, 0.0019, 0.0021, 0.0015, 0.0020,
    0.0014, 0.0021, 0.0013, 0.0022, 0.0016, 0.0019, 0.0012, 0.0021,
    0.0015, 0.0022, 0.0013, 0.0020, 0.0014, 0.0021, 0.0018, 0.0013,
    0.0021, 0.0014, 0.0020, 0.0013, 0.0022, 0.0015, 0.0019]
XY_INV_K100 = [
    0.0094, 0.0064, 0.0043, 0.0027, 0.0014, 0.00078, 0.00049, 0.00036,
    0.00029, 0.00023, 0.00015, 0.00027, 0.00021, 0.00015, 0.00031, 0.00036,
    0.00042, 0.00054, 0.00066, 0.00087, 0.00104, 0.00119, 0.00137, 0.00149,
    0.0015, 0.0017, 0.0016, 0.00034, 0.0017, 0.0015, 0.0018, 0.0016,
    0.0017, 0.0015, 0.0018, 0.0016, 0.00092, 0.0017, 0.0015, 0.0016,
    0.0018, 0.0015, 0.0017, 0.0016, 0.0016, 0.0017, 0.0015, 0.000034,
    0.0016, 0.0018, 0.0015, 0.0017, 0.00092, 0.0016, 0.0015, 0.0018,
    0.000044, 0.0017, 0.0016, 0.0018, 0.0015, 0.0017, 0.0016, 0.0015]
XY_INV_K100_MID = [
    0.0078, 0.0053, 0.0034, 0.0019, 0.00105, 0.00062, 0.00042, 0.00032,
    0.00026, 0.00018, 0.00020, 0.00024, 0.00017, 0.00022, 0.00033, 0.00039,
    0.00048, 0.00060, 0.00075, 0.00095, 0.00110, 0.00128, 0.00143, 0.0015,
    0.0012, 0.0019, 0.0011, 0.0018, 0.0013, 0.0020, 0.0012, 0.0019,
    0.0013, 0.0019, 0.0011, 0.0020, 0.0012, 0.0018, 0.0014, 0.0020,
    0.0012, 0.0019, 0.0013, 0.0020, 0.0011, 0.0018, 0.0013, 0.0019,
    0.0011, 0.0020, 0.0013, 0.0018, 0.0012, 0.0019, 0.0014, 0.0020,
    0.0012, 0.0018, 0.0011, 0.0019, 0.0013, 0.0020, 0.0012]
XY_INV_DENSE = [
    0.0090, 0.0059, 0.0042, 0.0025, 0.00137, 0.00073, 0.00045, 0.00031,
    0.00025, 0.000056, 0.00022, 0.00020, 0.00024, 0.00027, 0.00025, 0.00033,
    0.00042, 0.00049, 0.000017, 0.00082, 0.00104, 0.00119, 0.00133, 0.00148,
    0.00163, 0.00149, 0.0021, 0.0014, 0.0024, 0.0017, 0.0013, 0.0022,
    0.0018, 0.0025, 0.0015, 0.0020, 0.0013, 0.0023, 0.0016, 0.0021,
    0.0014, 0.0024, 0.0017, 0.0019, 0.0013, 0.0022, 0.0016, 0.0025,
    0.0015, 0.0021, 0.0018, 0.0013, 0.0023, 0.0017, 0.0014, 0.0020,
    0.00049, 0.0024, 0.0016, 0.0019, 0.0013, 0.0022, 0.0015, 0.0008]
XY_INV_DENSE_MID = [
    0.0073, 0.0050, 0.0033, 0.0018, 0.0010, 0.00058, 0.00038, 0.00028,
    0.00014, 0.00012, 0.00021, 0.00022, 0.00025, 0.00026, 0.00029, 0.00038,
    0.00045, 0.00028, 0.00030, 0.00092, 0.00112, 0.00126, 0.0014, 0.00155,
    0.0013, 0.0024, 0.0016, 0.0021, 0.0013, 0.0023, 0.0019, 0.0015,
    0.0022, 0.0013, 0.0024, 0.0016, 0.0021, 0.0014, 0.0023, 0.0017,
    0.0025, 0.0015, 0.0020, 0.0013, 0.0024, 0.0016, 0.0022, 0.0014,
    0.0023, 0.0016, 0.0021, 0.0013, 0.0024, 0.0015, 0.0022, 0.0018,
    0.0013, 0.0021, 0.0016, 0.0023, 0.0014, 0.0020, 0.0017]

TITLE_A = r'$\mathcal{N}(\rho)$, sparse binary SYK4, N=16'
TITLE_B = r'$\frac{1}{(2\,\mathcal{N}\,(\rho)+1)^2}$, sparse binary SYK4, N=16'
TITLE_C = r'sparse binary Spin XY4, $\mathcal{N}(\rho)$, N=16'
TITLE_D = r'sparse binary Spin XY4, $\frac{1}{(1+2\,\mathcal{N}\,(\rho))^2}$, N=16'
CAP_A = r'(a) $k_{cpl}$ scan of pseudo-negativity of bsSYK$_4$'
CAP_B = r'(b) $k_{cpl}$ scan of $1/(1+2\mathcal{N})^2$ of bsSYK$_4$'
CAP_C = r'(c) $k_{cpl}$ scan of pseudo-negativity of bsSpinXY$_4$'
CAP_D = r'(d) $k_{cpl}$ scan of $1/(1+2\mathcal{N})^2$ of bsSpinXY$_4$'

Y_TICKS_N_A = [0.01, 0.1, 1, 10]
Y_LABELS_N_A = ['0.01', '0.10', '1', '10']
Y_TICKS_N_C = [0.01, 0.1, 1, 10, 100]
Y_LABELS_N_C = ['0.01', '0.10', '1', '10', '100']
Y_TICKS_INV = [1e-4, 1e-3, 1e-2, 0.1, 1]
Y_LABELS_INV = [r'$10^{-4}$', '0.001', '0.010', '0.100', '1']

fig = plt.figure(figsize=(W / 100, H / 100), dpi=100)
AX_COL = '#6a6a6a'
LBL_COL = '#333333'
K_ALL = np.concatenate([np.array(K_SMOOTH), K_NOISY])


def series_values(smooth, main, mid):
    noisy = np.empty(len(main) + len(mid))
    noisy[0::2] = main
    noisy[1::2] = mid
    return np.concatenate([np.array(smooth), noisy])


def panel(box, xlog, ylog, spine_log, yticks, ylabels, smooth, pairs,
          legend_xy, title, title_xy, caption, caption_xy):
    l, r, t, b = box
    ax = fig.add_axes([l / W, 1 - b / H, (r - l) / W, (b - t) / H])
    ax.set_xscale('log')
    ax.set_yscale('log')
    lines = []
    for (main, mid), col in zip(pairs, COLORS):
        ln, = ax.plot(K_ALL, series_values(smooth, main, mid), color=col, lw=1.5,
                      solid_joinstyle='round')
        lines.append(ln)
    ax.set_xlim(10 ** xlog[0], 10 ** xlog[1])
    ax.set_ylim(10 ** ylog[0], 10 ** ylog[1])
    ax.patch.set_visible(False)
    for s in ('top', 'right'):
        ax.spines[s].set_visible(False)
    ax.spines['left'].set_position(('data', 10 ** spine_log[0]))
    ax.spines['bottom'].set_position(('data', 10 ** spine_log[1]))
    for s in ('left', 'bottom'):
        ax.spines[s].set_color(AX_COL)
        ax.spines[s].set_linewidth(0.8)
    ax.xaxis.set_major_locator(FixedLocator(X_TICKS))
    ax.xaxis.set_major_formatter(FixedFormatter(X_TICK_LABELS))
    ax.yaxis.set_major_locator(FixedLocator(yticks))
    ax.yaxis.set_major_formatter(FixedFormatter(ylabels))
    for axis in (ax.xaxis, ax.yaxis):
        axis.set_minor_locator(LogLocator(base=10, subs=np.arange(2, 10), numticks=30))
        axis.set_minor_formatter(NullFormatter())
    ax.tick_params(which='both', direction='in', color=AX_COL, width=0.7,
                   labelsize=7, labelcolor=LBL_COL, pad=3)
    ax.tick_params(which='major', length=4)
    ax.tick_params(which='minor', length=2)
    ax.legend(lines, LABELS, loc='center left',
              bbox_to_anchor=(legend_xy[0] / W, 1 - legend_xy[1] / H),
              bbox_transform=fig.transFigure, frameon=False, fontsize=10.4,
              handlelength=1.5, handletextpad=0.5, labelspacing=0.64,
              borderpad=0, borderaxespad=0, labelcolor='#222222')
    fig.text(title_xy[0] / W, 1 - title_xy[1] / H, title, ha='center', va='baseline',
             fontsize=9, color='#222222', math_fontfamily='cm')
    fig.text(caption_xy[0] / W, 1 - caption_xy[1] / H, caption, ha='center', va='baseline',
             fontsize=16.8, family='cmr10', math_fontfamily='cm', color='#111111')
    return ax


panel((23, 404, 20, 272), (-1.356, 5.102), (-2.819, 1.875), (-1.22, -2.745),
      Y_TICKS_N_A, Y_LABELS_N_A, SYK_N_SMOOTH,
      [(SYK_N_K8, SYK_N_K8_MID), (SYK_N_K12, SYK_N_K12_MID), (SYK_N_K16, SYK_N_K16_MID),
       (SYK_N_K20, SYK_N_K20_MID), (SYK_N_K48, SYK_N_K48_MID), (SYK_N_K100, SYK_N_K100_MID),
       (SYK_N_DENSE, SYK_N_DENSE_MID)],
      (422, 143), TITLE_A, (215, 16), CAP_A, (259, 309))

panel((590, 967, 25, 272), (-1.344, 5.134), (-4.31, 0.2), (-1.24, -4.237),
      Y_TICKS_INV, Y_LABELS_INV, SYK_INV_SMOOTH,
      [(SYK_INV_K8, SYK_INV_K8_MID), (SYK_INV_K12, SYK_INV_K12_MID), (SYK_INV_K16, SYK_INV_K16_MID),
       (SYK_INV_K20, SYK_INV_K20_MID), (SYK_INV_K48, SYK_INV_K48_MID), (SYK_INV_K100, SYK_INV_K100_MID),
       (SYK_INV_DENSE, SYK_INV_DENSE_MID)],
      (983, 143), TITLE_B, (777, 16), CAP_B, (819, 309))

panel((23, 404, 379, 630), (-1.356, 5.102), (-2.943, 2.314), (-1.22, -2.86),
      Y_TICKS_N_C, Y_LABELS_N_C, XY_N_SMOOTH,
      [(XY_N_K8, XY_N_K8_MID), (XY_N_K12, XY_N_K12_MID), (XY_N_K16, XY_N_K16_MID),
       (XY_N_K20, XY_N_K20_MID), (XY_N_K48, XY_N_K48_MID), (XY_N_K100, XY_N_K100_MID),
       (XY_N_DENSE, XY_N_DENSE_MID)],
      (422, 501), TITLE_C, (213, 374), CAP_C, (259, 677))

panel((590, 967, 383, 630), (-1.344, 5.134), (-5.229, 0.29), (-1.24, -5.14),
      Y_TICKS_INV, Y_LABELS_INV, XY_INV_SMOOTH,
      [(XY_INV_K8, XY_INV_K8_MID), (XY_INV_K12, XY_INV_K12_MID), (XY_INV_K16, XY_INV_K16_MID),
       (XY_INV_K20, XY_INV_K20_MID), (XY_INV_K48, XY_INV_K48_MID), (XY_INV_K100, XY_INV_K100_MID),
       (XY_INV_DENSE, XY_INV_DENSE_MID)],
      (983, 501), TITLE_D, (777, 375), CAP_D, (820, 677))

fig.savefig('out.png', dpi=100)
